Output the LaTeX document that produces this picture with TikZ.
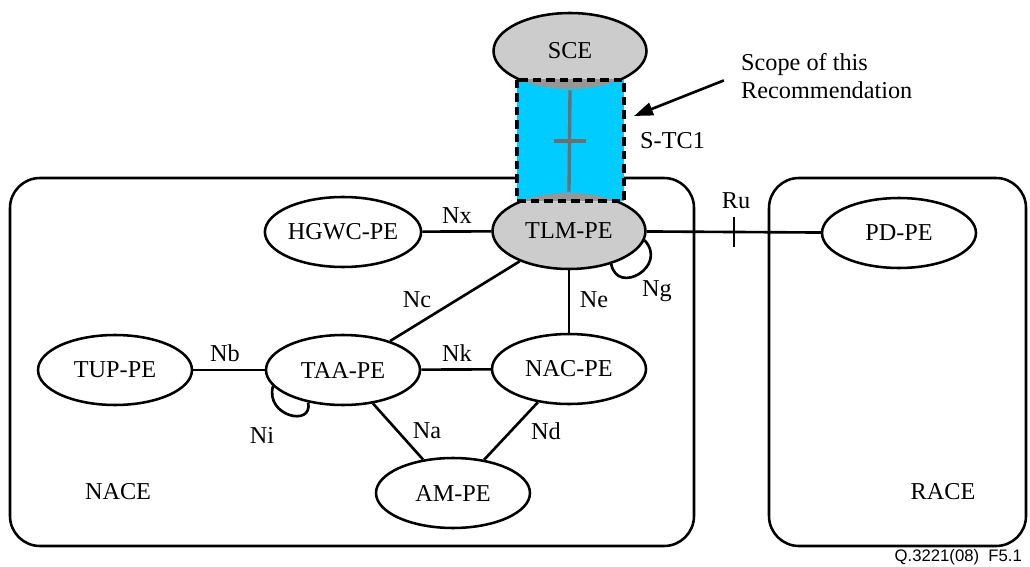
\documentclass[tikz,border=0pt]{standalone}
\usepackage{fontspec}
\setmainfont{Liberation Serif}
\newfontfamily\refsans{Liberation Sans}
\usetikzlibrary{positioning, arrows.meta, shapes.geometric}

\definecolor{scopeblue}{RGB}{0,204,255}
\definecolor{pegray}{RGB}{204,204,204}
\definecolor{shadegray}{RGB}{150,150,150}
\definecolor{stcgray}{RGB}{110,110,110}

\begin{document}
\begin{tikzpicture}[
    x=0.02cm, y=-0.02cm,
    every node/.style={font=\fontsize{13.8}{16}\selectfont},
    pe/.style={ellipse, draw=black, line width=1.45pt, fill=white, inner sep=0pt, minimum width=3.08cm, minimum height=1.4cm},
    core/.style={pe, fill=pegray, minimum width=3.06cm, minimum height=1.52cm},
    areabox/.style={draw=black, line width=1.45pt, rounded corners=0.6cm},
    link/.style={line width=1.5pt},
    sline/.style={stcgray, line width=1.9pt},
    scopebox/.style={draw=black, line width=2pt, dash pattern=on 0.17cm off 0.1cm},
    arr/.style={-{Triangle[length=0.38cm, width=0.26cm]}, line width=1.5pt},
]
\useasboundingbox (0,0) rectangle (1030,567);

% === Domains ===
\draw[areabox] (10,178) rectangle (694,546);
\draw[areabox] (769,178) rectangle (1026,546);
\node (nace) at (118,492) {NACE};
\node (race) at (943,492) {RACE};

% === Entities ===
\node[core] (sce) at (570,51) {SCE};
\node[core] (tlm) at (569,231) {TLM-PE};
\node[pe] (hgwc) at (343,232) {HGWC-PE};
\node[pe] (pd) at (899,233) {PD-PE};
\node[pe] (tup) at (115,370) {TUP-PE};
\node[pe] (taa) at (343,370) {TAA-PE};
\node[pe] (nac) at (569,369) {NAC-PE};
\node[pe] (am) at (453,493) {AM-PE};

% === Reference points ===
\draw[link] (hgwc) -- (tlm);
\draw[link] (tlm) -- (pd);
\draw[link] (tlm) -- (taa);
\draw[link] (tlm) -- (nac);
\draw[link] (tup) -- (taa);
\draw[link] (taa) -- (nac);
\draw[link] (taa) -- (am);
\draw[link] (nac) -- (am);
\draw[link] (tlm.-7) .. controls +(24,26) and +(6,32) .. (tlm.-38);
\draw[link] (taa.193) .. controls +(-8,30) and +(5,25) .. (taa.223);

\coordinate (ru) at (734,232);
\draw[link] (ru) ++(0,-15) -- ++(0,30);

\node (nx) at (457,216) {Nx};
\node (rulbl) at (736,201) {Ru};
\node (nc) at (417,300) {Nc};
\node (ne) at (594,300) {Ne};
\node (ng) at (657,291) {Ng};
\node (nb) at (225,353) {Nb};
\node (nk) at (457,353) {Nk};
\node (ni) at (262,435) {Ni};
\node (na) at (427,431) {Na};
\node (nd) at (546,431) {Nd};

% === S-TC1 scope ===
\coordinate (scopeNW) at (517,80);
\coordinate (scopeSE) at (624,201);
\fill[scopeblue] (scopeNW) rectangle (scopeSE);
\begin{scope}
  \clip (scopeNW) rectangle (scopeSE);
  \fill[shadegray] (sce.center) ellipse [x radius=1.53cm, y radius=0.76cm];
  \fill[shadegray] (tlm.center) ellipse [x radius=1.53cm, y radius=0.76cm];
\end{scope}
\draw[sline] (sce.south) -- coordinate[midway] (stc) (tlm.north);
\draw[sline] (stc) ++(-16,0) -- ++(32,0);
\draw[scopebox] (scopeNW) rectangle (scopeSE);
\node[anchor=west] (stclbl) at (634,141) {S-TC1};

\node[anchor=west, align=left] (scope) at (735,76) {Scope of this\\Recommendation};
\coordinate (scopetip) at (634,116);
\draw[arr, shorten <=0.24cm] (scope.west) -- (scopetip);

\node[anchor=east, font=\refsans\fontsize{9.5}{11}\selectfont] (figref) at (1028,557) {Q.3221(08)\ \ F5.1};

\end{tikzpicture}
\end{document}
